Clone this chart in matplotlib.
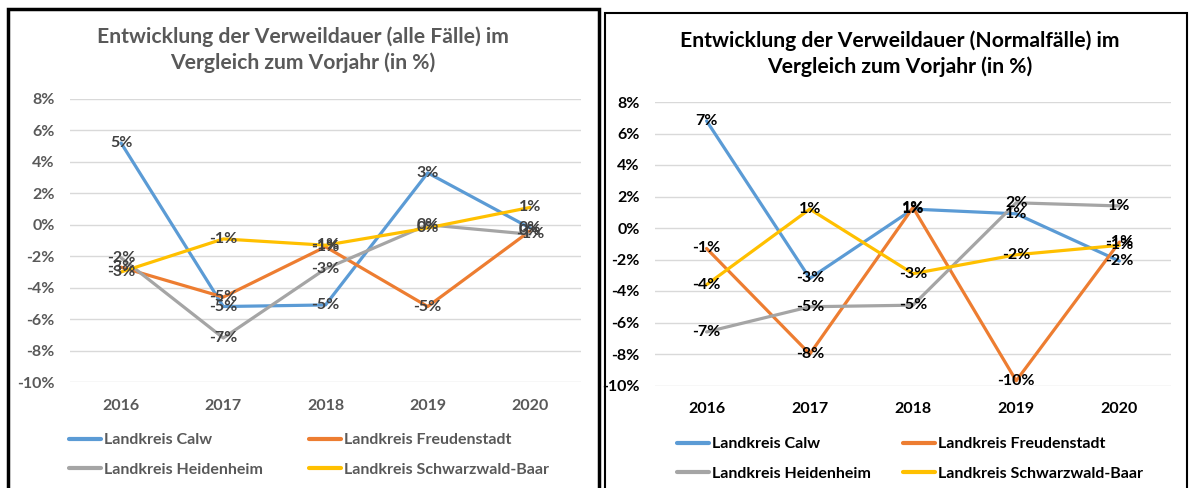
import matplotlib.pyplot as plt
from matplotlib.patches import Rectangle

plt.rcParams['font.family'] = ['Lato', 'DejaVu Sans']

years = ["2016", "2017", "2018", "2019", "2020"]
kreise = ["Landkreis Calw", "Landkreis Freudenstadt",
          "Landkreis Heidenheim", "Landkreis Schwarzwald-Baar"]
farben = ["#5B9BD5", "#ED7D31", "#A5A5A5", "#FFC000"]

# alle Faelle, Veraenderung in %
alle_calw = [5.2, -5.2, -5.1, 3.3, -0.2]
alle_freudenstadt = [-2.7, -4.6, -1.4, -5.2, -0.4]
alle_heidenheim = [-2.1, -7.2, -2.8, 0.0, -0.6]
alle_sbk = [-3.0, -0.9, -1.3, -0.2, 1.1]

# Normalfaelle, Veraenderung in %
normal_calw = [6.8, -3.2, 1.2, 0.9, -2.1]
normal_freudenstadt = [-1.3, -8.0, 1.3, -9.7, -0.9]
normal_heidenheim = [-6.6, -5.0, -4.9, 1.6, 1.4]
normal_sbk = [-3.6, 1.2, -2.9, -1.7, -1.1]

yticks = [-10, -8, -6, -4, -2, 0, 2, 4, 6, 8]

W, H = 1189, 488
fig = plt.figure(figsize=(W / 100, H / 100), dpi=100)


def px(x0, y_top, x1, y_bot):
    return [x0 / W, (H - y_bot) / H, (x1 - x0) / W, (y_bot - y_top) / H]


def pct(v):
    r = round(v)
    if r == 0:
        r = 0
    return f"{r:.0f}%"


def zeichne(ax, reihen, textfarbe, labelfarbe, titel, title_xy, leg_xy, colsp):
    x = range(len(years))
    for werte, name, c in zip(reihen, kreise, farben):
        ax.plot(x, werte, color=c, lw=2.3, label=name, solid_capstyle='round', zorder=2)
    for werte in reihen:
        for i, v in enumerate(werte):
            ax.text(i, v, pct(v), ha='center', va='center', fontsize=11.5,
                    fontweight='bold', color=labelfarbe, zorder=5)
    ax.set_xlim(-0.5, 4.5)
    ax.set_ylim(-10, 8)
    ax.set_yticks(yticks)
    ax.set_yticklabels([f"{t}%" for t in yticks])
    ax.set_xticks(list(x))
    ax.set_xticklabels(years)
    for s in ax.spines.values():
        s.set_visible(False)
    ax.tick_params(length=0, labelsize=11.5, colors=textfarbe)
    ax.tick_params(axis='y', pad=11)
    ax.tick_params(axis='x', pad=12)
    for lab in ax.get_xticklabels() + ax.get_yticklabels():
        lab.set_fontweight('bold')
    ax.grid(axis='y', color='#D9D9D9', lw=1)
    ax.set_axisbelow(True)
    fig.text(title_xy[0] / W, 1 - title_xy[1] / H, titel, ha='center', va='center',
             fontsize=15.2, fontweight='bold', color=textfarbe, linespacing=1.35)
    h, l = ax.get_legend_handles_labels()
    reihenfolge = [0, 2, 1, 3]  # zeilenweise wie im Original
    leg = fig.legend([h[i] for i in reihenfolge], [l[i] for i in reihenfolge],
                     ncol=2, frameon=False,
                     loc='upper left', bbox_to_anchor=(leg_xy[0] / W, 1 - leg_xy[1] / H),
                     fontsize=11.5, handlelength=2.0, handletextpad=0.2,
                     columnspacing=colsp, labelspacing=0.95, borderpad=0, borderaxespad=0)
    for t in leg.get_texts():
        t.set_color(textfarbe)
        t.set_fontweight('bold')
    for ln in leg.get_lines():
        ln.set_linewidth(3)


ax1 = fig.add_axes(px(70, 99, 581, 382))
zeichne(ax1, [alle_calw, alle_freudenstadt, alle_heidenheim, alle_sbk],
        '#595959', '#404040',
        "Entwicklung der Verweildauer (alle Fälle) im\nVergleich zum Vorjahr (in %)",
        (303, 50), (69, 433), 2.9)

ax2 = fig.add_axes(px(655, 102, 1171, 385.5))
zeichne(ax2, [normal_calw, normal_freudenstadt, normal_heidenheim, normal_sbk],
        '#000000', '#000000',
        "Entwicklung der Verweildauer (Normalfälle) im\nVergleich zum Vorjahr (in %)",
        (900, 54), (677, 437), 2.0)

# Rahmen
fig.add_artist(Rectangle((8 / W, -0.1), 591 / W, 1.1 - 9 / H, transform=fig.transFigure,
                         fill=False, ec='black', lw=2.5))
fig.add_artist(Rectangle((605 / W, -0.1), 582 / W, 1.1 - 13 / H, transform=fig.transFigure,
                         fill=False, ec='black', lw=1.5))

fig.savefig("out.png", dpi=100, facecolor='white')
